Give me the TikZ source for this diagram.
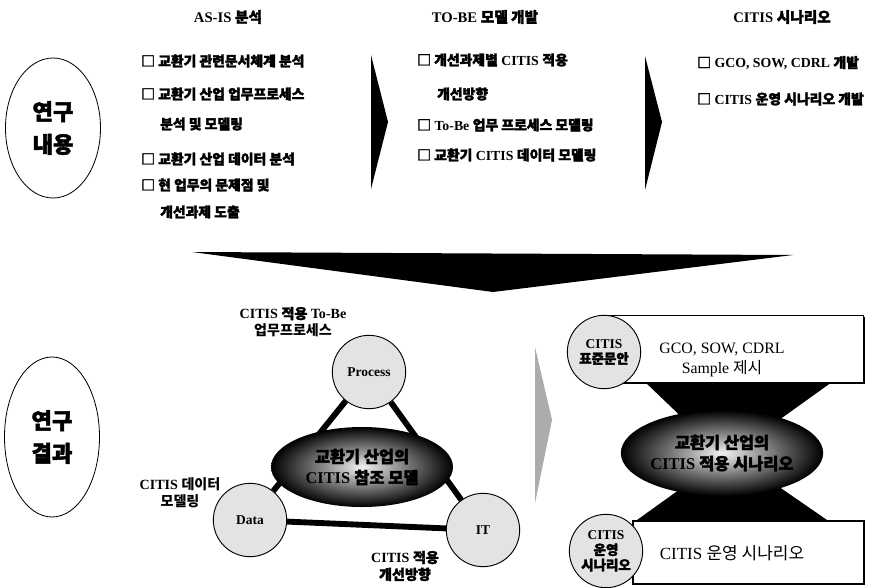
\documentclass[tikz,border=0pt]{standalone}
\usepackage{fontspec}
\setmainfont{Liberation Serif}
\newfontfamily\ko{Noto Sans CJK KR}
\newfontfamily\kob{Noto Sans CJK KR}[FakeBold=2.2]
\newcommand\K[1]{{\ko #1}}
\newcommand\B[1]{{\kob #1}}
\usetikzlibrary{shapes.geometric,backgrounds}
\tikzset{
  oval/.style={draw, ellipse, line width=0.7pt, minimum width=2.85cm, align=center, font=\fontsize{19}{26}\selectfont\bfseries, inner sep=0pt},
  head/.style={font=\fontsize{12.5}{14}\selectfont\bfseries},
  item/.style={anchor=west, font=\fontsize{11.8}{13}\selectfont\bfseries, inner sep=0pt},
  ball/.style={circle, draw, line width=0.8pt, fill=gray!22, minimum size=2.2cm, inner sep=0pt, align=center, font=\fontsize{11.5}{13}\selectfont\bfseries},
  hub/.style={ellipse, inner color=gray!10, outer color=black, align=center, font=\fontsize{14}{18}\selectfont\bfseries, inner sep=0pt},
  lbl/.style={align=center, font=\fontsize{12}{14.5}\selectfont\bfseries},
  link/.style={line width=5pt},
  card/.style={draw, line width=0.8pt, fill=white, align=center, inner sep=0pt}
}
\begin{document}
\begin{tikzpicture}[x=0.03cm,y=-0.03cm]
\useasboundingbox (0,0) rectangle (876,587);

% side ovals
\node[oval, minimum height=4.2cm] (o1) at (53,128) {\B{연구}\\[2pt]\B{내용}};
\node[oval, minimum height=4.8cm] (o2) at (52,437) {\B{연구}\\[2pt]\B{결과}};

% headers
\node[head] (h1) at (228,17) {AS-IS \B{분석}};
\node[head] (h2) at (485,17) {TO-BE \B{모델 개발}};
\node[head] (h3) at (782,17) {CITIS \B{시나리오}};

% AS-IS list
\node[item] (a1) at (141,61) {\B{□ 교환기 관련문서체계 분석}};
\node[item] (a2) at (141,94) {\B{□ 교환기 산업 업무프로세스}};
\node[item] (a3) at (160,124) {\B{분석 및 모델링}};
\node[item] (a4) at (141,159) {\B{□ 교환기 산업 데이터 분석}};
\node[item] (a5) at (141,185) {\B{□ 현 업무의 문제점 및}};
\node[item] (a6) at (160,212) {\B{개선과제 도출}};

% TO-BE list
\node[item] (b1) at (417,60) {\B{□ 개선과제별} CITIS \B{적용}};
\node[item] (b2) at (437,94) {\B{개선방향}};
\node[item] (b3) at (417,125) {\B{□} To-Be \B{업무 프로세스 모델링}};
\node[item] (b4) at (417,155) {\B{□ 교환기} CITIS \B{데이터 모델링}};

% CITIS list
\node[item] (c1) at (697,63) {\B{□} GCO, SOW, CDRL \B{개발}};
\node[item] (c2) at (697,99) {\B{□} CITIS \B{운영 시나리오 개발}};

% top arrows
\fill (371,55) -- (388,122) -- (371,189) -- cycle;
\fill (645,56) -- (662,122) -- (645,190) -- cycle;

% big wedge
\fill (192,252) -- (793,255) -- (493,292) -- cycle;

% triangle model
\node[ball] (P) at (369,372) {Process};
\node[ball] (D) at (250,520) {Data};
\node[ball] (I) at (483,530) {IT};
\node[hub, minimum width=5.46cm, minimum height=2.4cm] (E1) at (362,467) {\B{교환기 산업의}\\CITIS \B{참조 모델}};
\begin{scope}[on background layer]
  \draw[link] (P) -- (D);
  \draw[link] (P) -- (I);
  \draw[link] (D) -- (I);
\end{scope}
\node[lbl] (lp) at (293,322) {CITIS \B{적용} To-Be\\\K{업무프로세스}};
\node[lbl] (ld) at (180,493) {CITIS \K{데이터}\\\K{모델링}};
\node[lbl] (li) at (405,566) {CITIS \B{적용}\\\B{개선방향}};

% gray arrow
\fill[gray!65] (535,347) -- (552,420) -- (535,503) -- cycle;

% scenario side
\fill[black] (645,382) -- (832,382) -- (772,425) -- (772,482) -- (827,520) -- (637,520) -- (690,482) -- (690,425) -- cycle;
\node[hub, minimum width=5.16cm, minimum height=2.58cm] (E2) at (722,453) {\B{교환기 산업의}\\CITIS \B{적용 시나리오}};
\fill[black] (601,317) rectangle (865,384);
\node[card, minimum width=7.89cm, minimum height=2.01cm] (T) at (731.5,348.5) {};
\node[font=\fontsize{13.5}{17}\selectfont, align=center] (tt) at (722,360) {GCO, SOW, CDRL\\Sample \K{제시}};
\node[ball] (S1) at (604,352) {CITIS\\\B{표준문안}};
\draw[line width=1.2pt, fill=white] (633,521) rectangle (864,584);
\node[font=\fontsize{14.5}{17}\selectfont] (bt) at (732,553) {CITIS \K{운영 시나리오}};
\node[ball] (S2) at (606,551) {CITIS\\\B{운영}\\\B{시나리오}};
\end{tikzpicture}
\end{document}
